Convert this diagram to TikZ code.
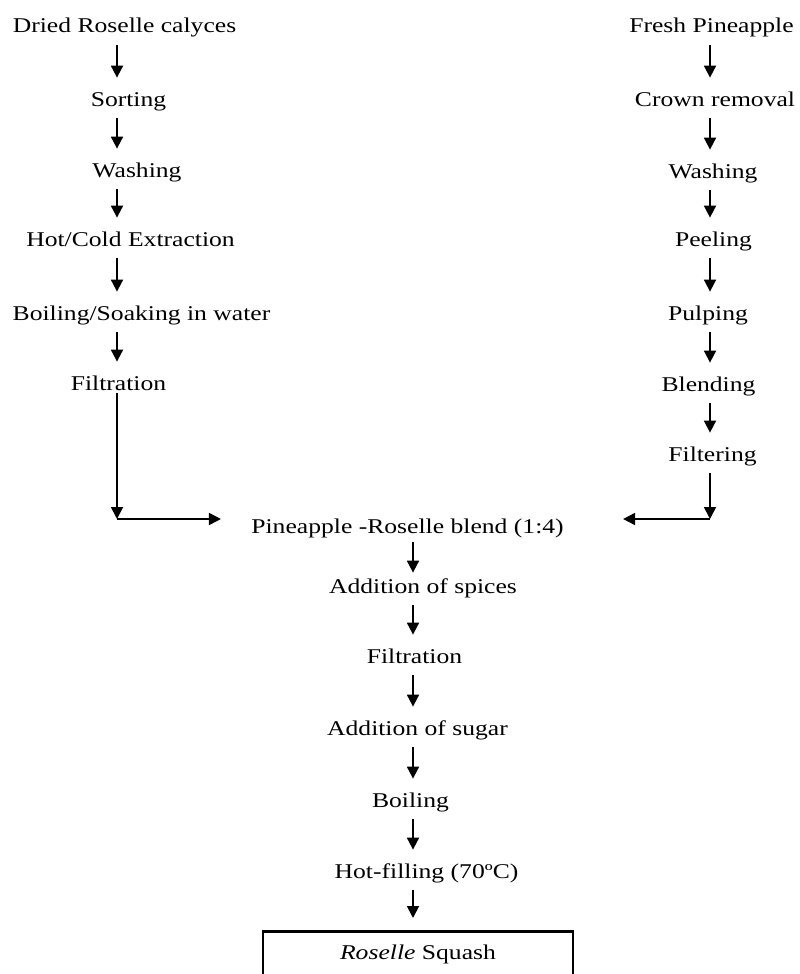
\documentclass[tikz,border=0pt]{standalone}
\usepackage{fontspec}
\setmainfont{Liberation Serif}[FakeStretch=1.22]
\usetikzlibrary{arrows.meta}

\begin{document}
\begin{tikzpicture}[x=0.5pt, y=-0.5pt,
		stage/.style={inner xsep=3pt, inner ysep=0pt, minimum height=20pt, text height=8.5pt, text depth=0.5pt, font=\fontsize{10.5}{12}\selectfont},
		flow/.style={line width=0.9pt, -{Triangle[length=6pt, width=6pt]}}]
	\clip (0,0) rectangle (799,974);
	\coordinate (colL) at (117,0);
	\coordinate (colR) at (710,0);
	\coordinate (colC) at (413,0);
	\coordinate (cornerL) at (117,519);
	\coordinate (cornerR) at (710,519);

	\node (dried) [stage] at (124.5,25) {Dried Roselle calyces};
	\node (sortL) [stage] at (128.5,98) {Sorting};
	\node (washL) [stage] at (137,169) {Washing};
	\node (extract) [stage] at (130.5,238) {Hot/Cold Extraction};
	\node (boil) [stage] at (141.5,312) {Boiling/Soaking in water};
	\node (filtL) [stage] at (118.5,382) {Filtration};

	\node (fresh) [stage] at (711.5,25) {Fresh Pineapple};
	\node (crown) [stage] at (715,98) {Crown removal};
	\node (washR) [stage] at (713,170) {Washing};
	\node (peel) [stage] at (713.5,238) {Peeling};
	\node (pulp) [stage] at (708,312) {Pulping};
	\node (blendR) [stage] at (708.5,383) {Blending};
	\node (filtR) [stage] at (712.5,453) {Filtering};

	\node (blend) [stage] at (407.5,525) {Pineapple -Roselle blend (1:4)};
	\node (spices) [stage] at (423,585) {Addition of spices};
	\node (filtC) [stage] at (414.5,655) {Filtration};
	\node (sugar) [stage] at (417.5,727) {Addition of sugar};
	\node (boilC) [stage] at (410.5,799) {Boiling};
	\node (hot) [stage] at (426.5,870) {Hot-filling (70ºC)};
	\node (squash) [stage, draw, line width=1.3pt, anchor=north, minimum width=155pt, text height=14pt, text depth=22pt] at (418,930) {\textit{Roselle} Squash};

	\draw [flow] (dried.south -| colL) -- (sortL.north -| colL);
	\draw [flow] (sortL.south -| colL) -- (washL.north -| colL);
	\draw [flow] (washL.south -| colL) -- (extract.north -| colL);
	\draw [flow] (extract.south -| colL) -- (boil.north -| colL);
	\draw [flow] (boil.south -| colL) -- (filtL.north -| colL);
	\draw [flow, shorten <=-4.5pt] (filtL.south -| colL) -- (cornerL);
	\draw [flow, shorten >=12pt] (cornerL) -- (cornerL -| blend.west);

	\draw [flow] (fresh.south -| colR) -- (crown.north -| colR);
	\draw [flow] (crown.south -| colR) -- (washR.north -| colR);
	\draw [flow] (washR.south -| colR) -- (peel.north -| colR);
	\draw [flow] (peel.south -| colR) -- (pulp.north -| colR);
	\draw [flow] (pulp.south -| colR) -- (blendR.north -| colR);
	\draw [flow] (blendR.south -| colR) -- (filtR.north -| colR);
	\draw [flow] (filtR.south -| colR) -- (cornerR);
	\draw [flow, shorten >=26.5pt] (cornerR) -- (cornerR -| blend.east);

	\draw [flow, shorten <=-1.5pt, shorten >=-4pt] (blend.south -| colC) -- (spices.north -| colC);
	\draw [flow] (spices.south -| colC) -- (filtC.north -| colC);
	\draw [flow] (filtC.south -| colC) -- (sugar.north -| colC);
	\draw [flow] (sugar.south -| colC) -- (boilC.north -| colC);
	\draw [flow] (boilC.south -| colC) -- (hot.north -| colC);
	\draw [flow, shorten >=6pt] (hot.south -| colC) -- (squash.north -| colC);
\end{tikzpicture}
\end{document}
